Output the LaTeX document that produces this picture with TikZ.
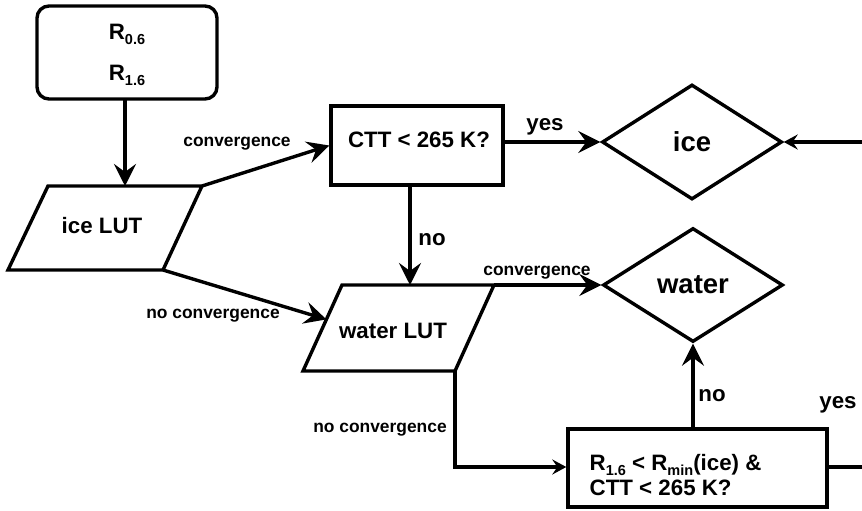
\documentclass[tikz,border=0pt]{standalone}
\usepackage{fontspec}
\setmainfont{Liberation Sans}
\usetikzlibrary{arrows.meta,shapes.geometric,calc}
\newcommand{\subtx}[1]{\raisebox{-5pt}{\fontsize{14.5}{14.5}\selectfont #1}}
\begin{document}
\begin{tikzpicture}[x=1pt,y=-1pt,line width=3.4pt,
  big/.style={-{Stealth[length=22pt,width=22pt,inset=8pt]}},
  small/.style={-{Stealth[length=14pt,width=15pt,inset=5pt]}},
  txt/.style={font=\bfseries\fontsize{22.3}{25}\selectfont,inner sep=0pt},
  lbl/.style={font=\bfseries\fontsize{17.4}{20}\selectfont,inner sep=0pt},
  dtxt/.style={font=\bfseries\fontsize{27.5}{30}\selectfont,inner sep=0pt},
  box/.style={draw,rectangle,inner sep=0pt},
  dia/.style={draw,diamond,inner sep=0pt,minimum width=180pt,minimum height=115pt}]
\useasboundingbox (0,0) rectangle (862,511);

% input box
\node[box,rounded corners=12pt,minimum width=180pt,minimum height=93pt] (inbox) at (127,52.5) {};
\node[txt,anchor=base] (r06) at (127,40) {R\subtx{0.6}};
\node[txt,anchor=base] (r16) at (127,81) {R\subtx{1.6}};

% ice LUT parallelogram
\coordinate (iceTL) at (48,186);
\coordinate (iceTR) at (202,186);
\coordinate (iceBR) at (163,270);
\coordinate (iceBL) at (8,270);
\draw[line join=miter] (iceTL) -- (iceTR) -- (iceBR) -- (iceBL) -- cycle;
\node[txt] (icelut) at (102,226) {ice LUT};

% CTT box
\node[box,minimum width=172pt,minimum height=79pt] (ctt) at (417,145.5) {};
\node[txt] (ctttxt) at (419,140) {CTT < 265 K?};

% ice diamond
\node[dia] (ice) at (692,142) {};
\node[dtxt] (icetxt) at (692,142) {ice};

% water LUT parallelogram
\coordinate (wTL) at (342,285);
\coordinate (wTR) at (494,285);
\coordinate (wBR) at (455,371);
\coordinate (wBL) at (303,371);
\draw[line join=miter] (wTL) -- (wTR) -- (wBR) -- (wBL) -- cycle;
\node[txt] (wlut) at (393,331) {water LUT};

% water diamond
\node[dia,minimum height=114pt] (water) at (693,285) {};
\node[dtxt] (watertxt) at (693,285) {water};

% decision box
\node[box,minimum width=259pt,minimum height=78pt] (dec) at (697.5,468) {};
\node[txt,anchor=base west] (dec1) at (588,470) {R\subtx{1.6} < R\subtx{min}(ice) \&};
\node[txt,anchor=base west] (dec2) at (588,495) {CTT < 265 K?};

% helper coordinates
\coordinate (inS) at (125,99);
\coordinate (iceTop) at (125,186);
\coordinate (cttS) at (410,185.5);
\coordinate (wTop) at (410,285);
\coordinate (wleft) at ($(wTL)!0.4!(wBL)$);
\coordinate (rightA) at (862,142);
\coordinate (rightB) at (862,467);

% connectors
\draw[big] (inS) -- (iceTop);
\draw[big] (iceTR) -- (ctt.west);
\node[lbl] (l1) at (237,144) {convergence};
\draw[big] (ctt.east |- ice.west) -- (ice.west);
\node[txt] (l2) at (545,127) {yes};
\draw[big] (cttS) -- (wTop);
\node[txt] (l3) at (432,240) {no};
\draw[big] (iceBR) -- (wleft);
\node[lbl] (l4) at (213,316) {no convergence};
\draw[big] (wTR) -- (water.west);
\node[lbl] (l5) at (537,273) {convergence};
\draw[small] (wBR) -- (wBR |- rightB) -- (dec.west |- rightB);
\node[lbl] (l6) at (380,430) {no convergence};
\draw[big] (water.south |- dec.north) -- (water.south);
\node[txt] (l7) at (712,396) {no};
\draw (dec.east |- rightB) -- (rightB);
\node[txt] (l8) at (838,405) {yes};
\draw[small] (rightA) -- (ice.east);
\end{tikzpicture}
\end{document}
